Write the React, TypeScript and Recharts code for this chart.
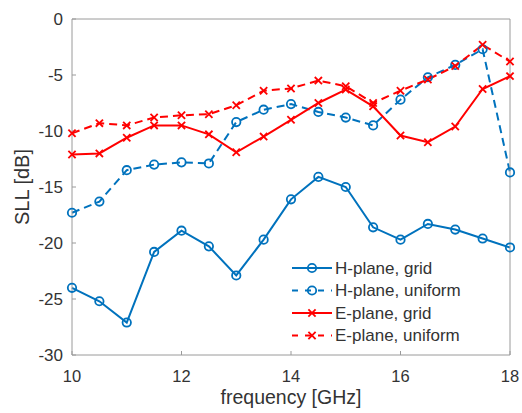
import { LineChart, Line, XAxis, YAxis, Legend } from "recharts";

// SLL vs frequency, sampled every 0.5 GHz
const FREQ = [10, 10.5, 11, 11.5, 12, 12.5, 13, 13.5, 14, 14.5, 15, 15.5, 16, 16.5, 17, 17.5, 18];
const H_GRID = [-24.0, -25.2, -27.1, -20.8, -18.9, -20.3, -22.9, -19.7, -16.1, -14.1, -15.0, -18.6, -19.7, -18.3, -18.8, -19.6, -20.4];
const H_UNIFORM = [-17.3, -16.3, -13.5, -13.0, -12.8, -12.9, -9.2, -8.1, -7.6, -8.3, -8.8, -9.5, -7.2, -5.2, -4.1, -2.7, -13.7];
const E_GRID = [-12.1, -12.0, -10.6, -9.5, -9.5, -10.3, -11.9, -10.5, -9.0, -7.5, -6.3, -7.8, -10.4, -11.0, -9.6, -6.25, -5.1];
const E_UNIFORM = [-10.2, -9.3, -9.5, -8.8, -8.6, -8.5, -7.7, -6.4, -6.2, -5.5, -6.0, -7.5, -6.4, -5.4, -4.2, -2.3, -3.8];

const X_TICKS = [10, 12, 14, 16, 18];
const Y_TICKS = [-30, -25, -20, -15, -10, -5, 0];

const BLUE = "#0072BD";
const RED = "#FF0000";
const AXIS = "#9a9a9a";
const TEXT = "#333";
const FONT = "'Liberation Sans', Arial, Helvetica, sans-serif";

type Marker = "o" | "x";

const SERIES: { key: string; name: string; color: string; dashed: boolean; marker: Marker }[] = [
  { key: "hGrid", name: "H-plane, grid", color: BLUE, dashed: false, marker: "o" },
  { key: "hUniform", name: "H-plane, uniform", color: BLUE, dashed: true, marker: "o" },
  { key: "eGrid", name: "E-plane, grid", color: RED, dashed: false, marker: "x" },
  { key: "eUniform", name: "E-plane, uniform", color: RED, dashed: true, marker: "x" },
];

const data = FREQ.map((f, i) => ({
  f,
  hGrid: H_GRID[i],
  hUniform: H_UNIFORM[i],
  eGrid: E_GRID[i],
  eUniform: E_UNIFORM[i],
}));

const DASH = "8 5";

function MarkerShape({ cx, cy, color, marker }: { cx: number; cy: number; color: string; marker: Marker }) {
  if (marker === "o") {
    return <circle cx={cx} cy={cy} r={4.2} fill="none" stroke={color} strokeWidth={1.8} />;
  }
  const s = 3.6;
  return (
    <g stroke={color} strokeWidth={1.8}>
      <line x1={cx - s} y1={cy - s} x2={cx + s} y2={cy + s} />
      <line x1={cx - s} y1={cy + s} x2={cx + s} y2={cy - s} />
    </g>
  );
}

function LegendBox() {
  const rowH = 22.5;
  return (
    <svg width={190} height={rowH * SERIES.length + 4} style={{ fontFamily: FONT, display: "block" }}>
      {SERIES.map((s, i) => {
        const cy = 11 + i * rowH;
        return (
          <g key={s.key}>
            <line
              x1={2}
              x2={42}
              y1={cy}
              y2={cy}
              stroke={s.color}
              strokeWidth={2}
              strokeDasharray={s.dashed ? "6 7" : undefined}
            />
            <MarkerShape cx={22} cy={cy} color={s.color} marker={s.marker} />
            <text x={45} y={cy} dy="0.35em" fontSize={17} fill={TEXT}>
              {s.name}
            </text>
          </g>
        );
      })}
    </svg>
  );
}

export default function App() {
  return (
    <div style={{ position: "absolute", left: 0, top: 0, background: "#fff" }}>
      <LineChart
        width={522}
        height={413}
        data={data}
        margin={{ top: 18, right: 11, left: 0, bottom: 0 }}
        style={{ fontFamily: FONT }}
      >
        <XAxis
          dataKey="f"
          type="number"
          domain={[10, 18]}
          ticks={X_TICKS}
          height={58}
          stroke={AXIS}
          tickSize={-4}
          tickMargin={19}
          tick={{ fontSize: 16.5, fill: TEXT }}
          label={{ value: "frequency [GHz]", position: "insideBottom", offset: 9, fontSize: 19.5, fill: TEXT }}
        />
        <XAxis
          xAxisId="top"
          orientation="top"
          dataKey="f"
          type="number"
          domain={[10, 18]}
          ticks={X_TICKS}
          height={1}
          stroke={AXIS}
          tickSize={-4}
          tick={false}
        />
        <YAxis
          type="number"
          domain={[-30, 0]}
          ticks={Y_TICKS}
          width={72}
          stroke={AXIS}
          tickSize={-4}
          tickMargin={13}
          tick={{ fontSize: 17, fill: TEXT }}
          label={{
            value: "SLL [dB]",
            angle: -90,
            position: "insideLeft",
            offset: 22,
            fontSize: 20,
            fill: TEXT,
            style: { textAnchor: "middle" },
          }}
        />
        <YAxis
          yAxisId="right"
          orientation="right"
          type="number"
          domain={[-30, 0]}
          ticks={Y_TICKS}
          width={1}
          stroke={AXIS}
          tickSize={-4}
          tick={false}
        />
        {SERIES.map((s) => (
          <Line
            key={s.key}
            dataKey={s.key}
            name={s.name}
            type="linear"
            stroke={s.color}
            strokeWidth={2}
            strokeDasharray={s.dashed ? DASH : undefined}
            isAnimationActive={false}
            activeDot={false}
            dot={(p: any) => (
              <MarkerShape key={`${s.key}-${p.index}`} cx={p.cx} cy={p.cy} color={s.color} marker={s.marker} />
            )}
          />
        ))}
        <Legend
          layout="vertical"
          align="center"
          verticalAlign="middle"
          wrapperStyle={{ left: 290, top: 257, width: "auto", height: "auto" }}
          content={() => <LegendBox />}
        />
      </LineChart>
    </div>
  );
}
